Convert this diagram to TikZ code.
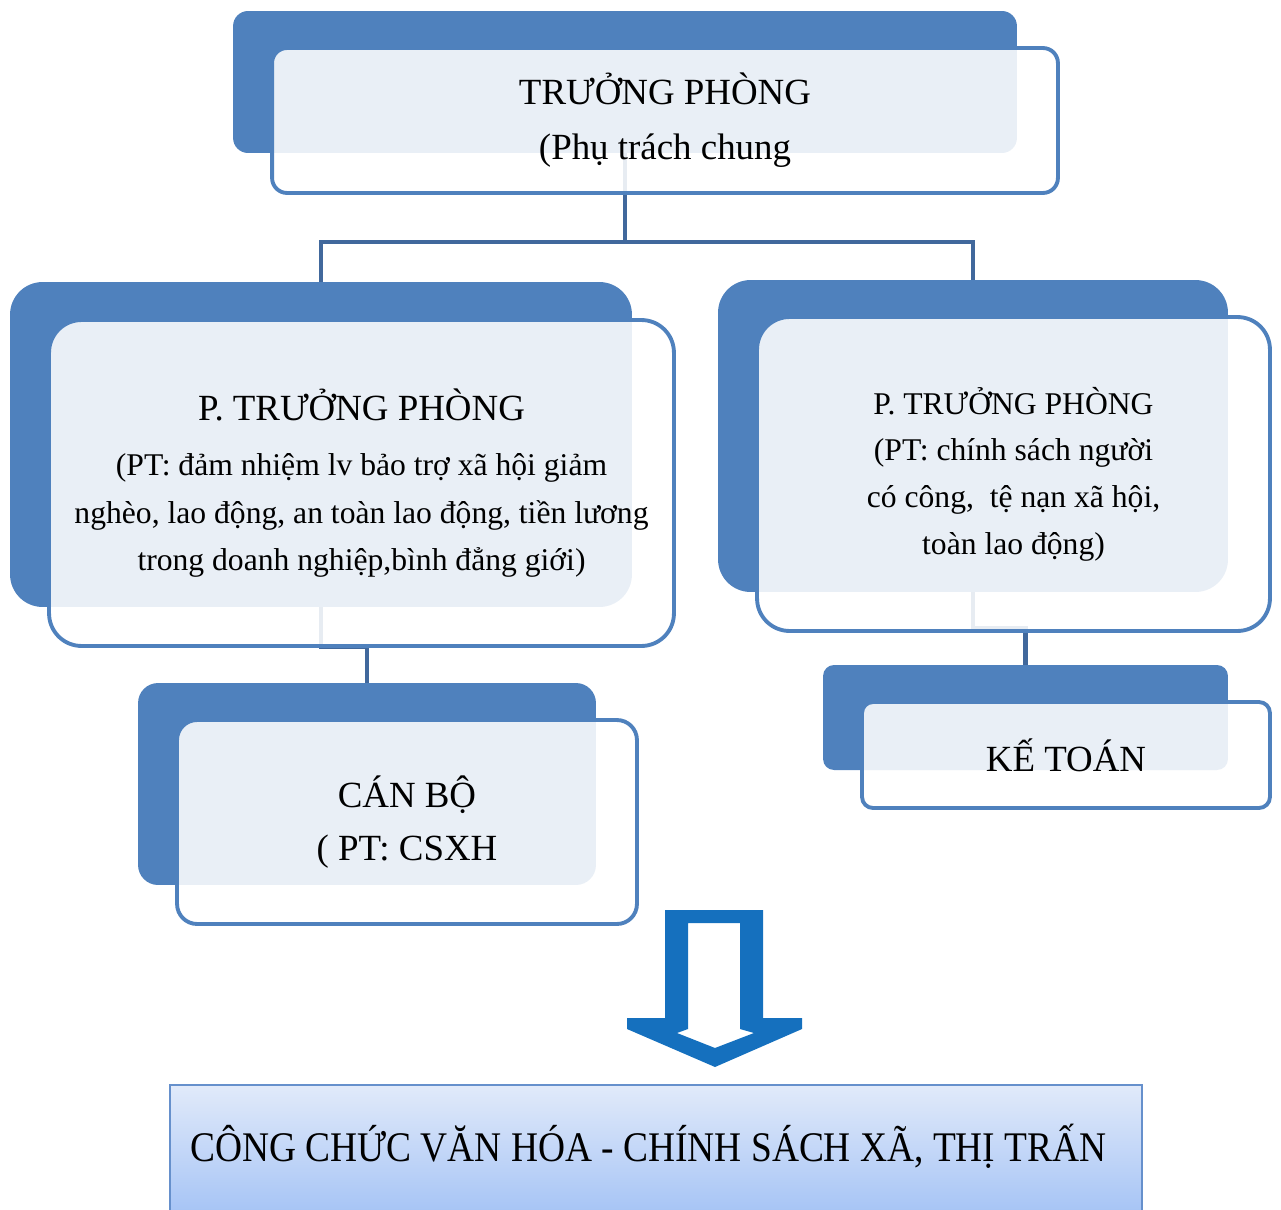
\documentclass[tikz,border=0pt]{standalone}
\usepackage{fontspec}
\setmainfont{Liberation Serif}
\usepackage{tikz}
\pgfdeclarelayer{bg}
\pgfsetlayers{bg,main}
\definecolor{boxblue}{HTML}{4F81BD}
\definecolor{linkblue}{HTML}{41689C}
\definecolor{arrowblue}{HTML}{1570BE}
\definecolor{rimblue}{HTML}{6690CC}
\definecolor{topshade}{HTML}{E1EAFA}
\definecolor{lowshade}{HTML}{A3C2F5}

\begin{document}
\begin{tikzpicture}[x=0.02cm,y=-0.02cm,
  backbox/.style={rectangle,fill=boxblue,rounded corners=#1,inner sep=0pt},
  frontbox/.style={rectangle,draw=boxblue,line width=2.2pt,fill=white,fill opacity=0.88,text opacity=1,rounded corners=#1,align=center,inner sep=0pt},
  link/.style={draw=linkblue,line width=2.4pt}]
\useasboundingbox (0,0) rectangle (1281,1210);
\clip (0,0) rectangle (1281,1210);
% head of the office
\node[backbox=0.3cm,minimum width=15.68cm,minimum height=2.84cm] (headB) at (625,82) {};
\node[frontbox=0.3cm,minimum width=15.72cm,minimum height=2.9cm,font=\fontsize{21}{31.2}\selectfont] (headF) at (665,120.5) {TRƯỞNG PHÒNG\\(Phụ trách chung};
% two deputies
\node[backbox=0.65cm,minimum width=12.44cm,minimum height=6.5cm] (depLB) at (321,444.5) {};
\node[frontbox=0.65cm,minimum width=12.5cm,minimum height=6.52cm,font=\fontsize{18}{27}\selectfont] (depLF) at (361.5,483) {{\fontsize{21}{27}\selectfont P. TRƯỞNG PHÒNG}\\[4.7pt](PT: đảm nhiệm lv bảo trợ xã hội giảm\\nghèo, lao động, an toàn lao động, tiền lương\\trong doanh nghiệp,bình đẳng giới)};
\node[backbox=0.65cm,minimum width=10.2cm,minimum height=6.24cm] (depRB) at (973,436) {};
\node[frontbox=0.65cm,minimum width=10.26cm,minimum height=6.28cm,font=\fontsize{18}{26.6}\selectfont] (depRF) at (1013.5,474) {P. TRƯỞNG PHÒNG\\(PT: chính sách người\\có công,~ tệ nạn xã hội,\\toàn lao động)};
% staff
\node[backbox=0.4cm,minimum width=9.16cm,minimum height=4.04cm] (staffB) at (367,784) {};
\node[frontbox=0.4cm,minimum width=9.2cm,minimum height=4.08cm,font=\fontsize{21}{30}\selectfont] (staffF) at (407,822) {CÁN BỘ\\( PT: CSXH};
\node[backbox=0.22cm,minimum width=8.1cm,minimum height=2.1cm] (acctB) at (1025.5,717.5) {};
\node[frontbox=0.22cm,minimum width=8.16cm,minimum height=2.12cm,font=\fontsize{21}{30}\selectfont] (acctF) at (1066,755) {KẾ TOÁN};
% links behind the boxes
\begin{pgfonlayer}{bg}
\draw[link] (headB.south) -- ++(0,89) -| (depLB.north);
\draw[link] (headB.south) -- ++(0,89) -| (depRB.north);
\draw[link] (depLB.south) -- ++(0,40) -| (staffB.north);
\draw[link] (depRB.south) -- ++(0,36) -| (acctB.north);
\end{pgfonlayer}
% block arrow
\fill[arrowblue,even odd rule] (665,910) -- (763,910) -- (763,1018) -- (802,1018) -- (802,1029) -- (715,1067) -- (627,1029) -- (627,1018) -- (665,1018) -- cycle
  (688,923) -- (740,923) -- (740,1029) -- (754,1033) -- (715,1048) -- (677,1033) -- (688,1029) -- cycle;
% commune level
\node[rectangle,draw=rimblue,line width=1.2pt,top color=topshade,bottom color=lowshade,minimum width=19.44cm,minimum height=2.7cm,inner sep=0pt] (commune) at (656,1152.5) {};
\node[anchor=west,inner sep=0pt,font=\fontsize{24}{28}\selectfont] (communeText) at (190,1146) {\scalebox{0.887}[1]{CÔNG CHỨC VĂN HÓA - CHÍNH SÁCH XÃ, THỊ TRẤN}};
\end{tikzpicture}
\end{document}
